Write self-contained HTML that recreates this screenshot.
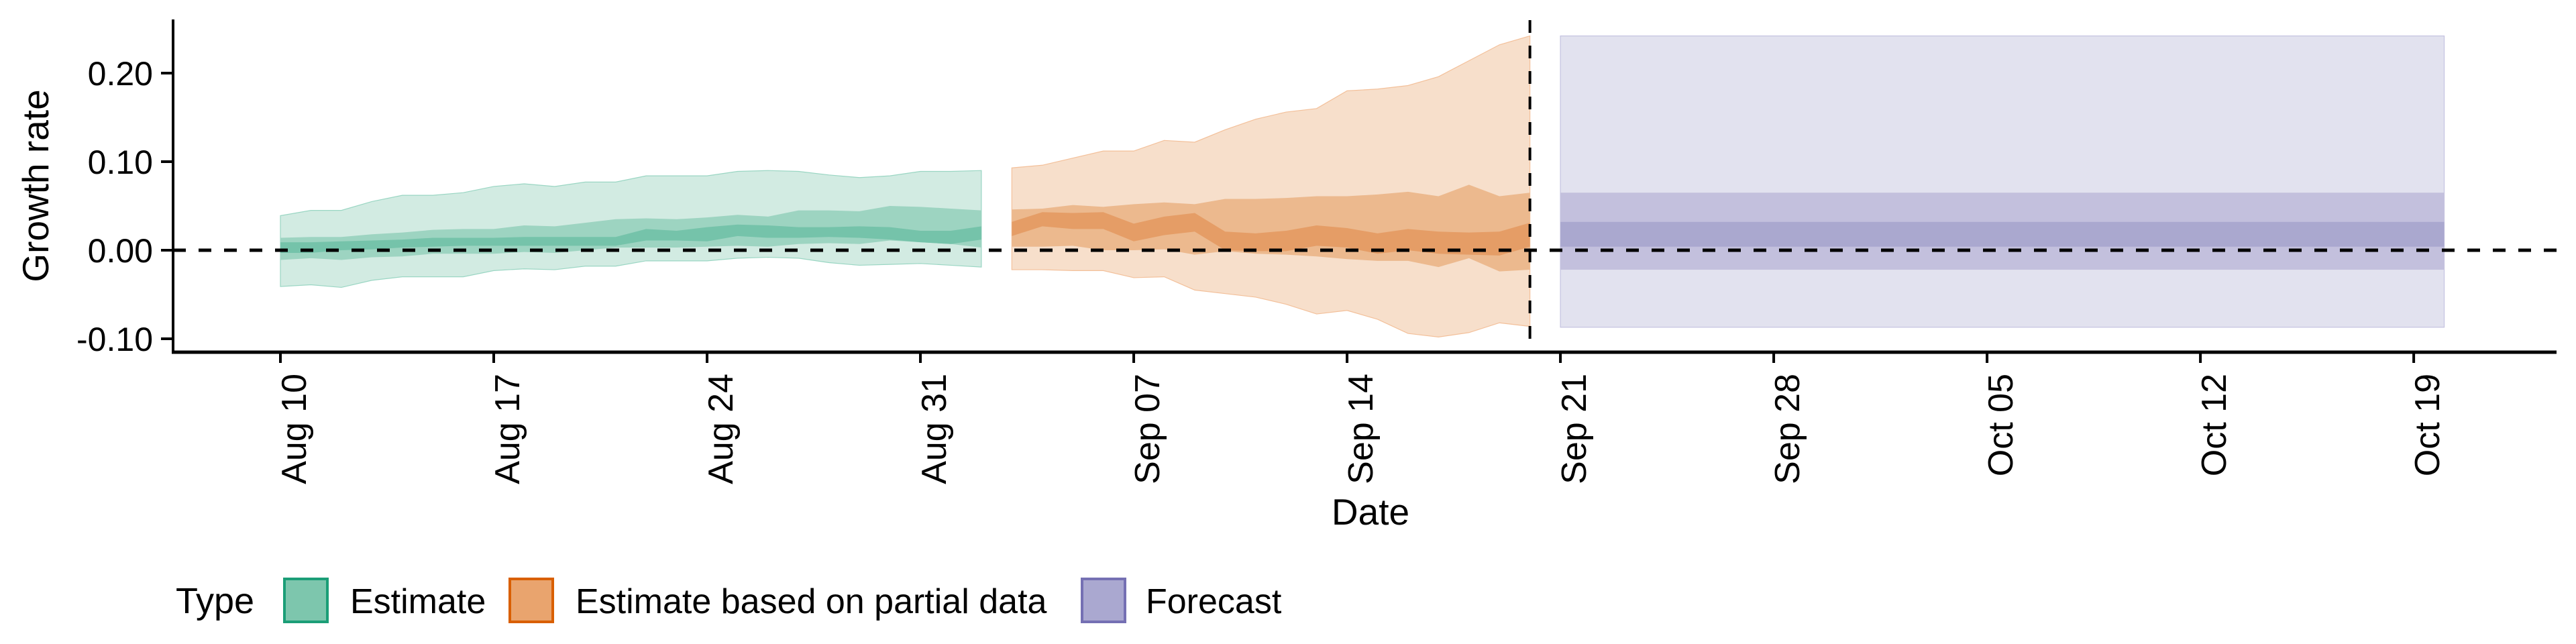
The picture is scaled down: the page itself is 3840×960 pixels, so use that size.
<!DOCTYPE html>
<html><head><meta charset="utf-8"><style>
html,body{margin:0;padding:0;background:#fff}
svg{display:block;font-family:"Liberation Sans",sans-serif}
</style></head><body>
<svg id="chart" width="3840" height="960" viewBox="0 0 3840 960" xmlns="http://www.w3.org/2000/svg">
<g id="bands"></g>
<g id="axes"></g>
<text x="0" y="0" transform="translate(72,277) rotate(-90)" text-anchor="middle" font-size="55" fill="#000">Growth rate</text>
<text x="2043" y="782" text-anchor="middle" font-size="55" fill="#000">Date</text>
<g>
<text x="262" y="914" font-size="54" fill="#000">Type</text>
<rect x="424" y="863" width="64" height="64" fill="#7dc6ad" stroke="#1b9e77" stroke-width="4"/>
<text x="522" y="914" font-size="52" fill="#000">Estimate</text>
<rect x="760" y="863" width="64" height="64" fill="#e9a46e" stroke="#d95f02" stroke-width="4"/>
<text x="858" y="914" font-size="52" fill="#000">Estimate based on partial data</text>
<rect x="1613" y="863" width="64" height="64" fill="#aaa8d0" stroke="#7570b3" stroke-width="4"/>
<text x="1708" y="914" font-size="52" fill="#000">Forecast</text>
</g>
</svg>
<script>
// day index 0 = Aug 10
const estStart = 0;
const estUpper90 = [.039,.045,.045,.055,.062,.062,.065,.072,.075,.072,.077,.077,.084,.084,.084,.089,.090,.089,.085,.082,.084,.089,.089,.090];
const estLower90 = [-.041,-.039,-.042,-.034,-.030,-.030,-.030,-.023,-.021,-.022,-.018,-.018,-.012,-.012,-.012,-.009,-.008,-.009,-.014,-.017,-.016,-.015,-.017,-.019];
const estUpper50 = [.014,.015,.015,.018,.020,.023,.024,.024,.028,.027,.031,.035,.036,.035,.037,.040,.038,.045,.045,.044,.050,.049,.047,.045];
const estLower50 = [-.011,-.009,-.011,-.008,-.007,-.004,-.004,-.004,-.002,-.003,0,.003,.003,.003,.004,.005,.004,.007,.008,.007,.011,.009,.007,.003];
const estUpper20 = [.009,.009,.010,.011,.012,.014,.014,.014,.015,.015,.015,.015,.024,.022,.026,.029,.028,.026,.026,.027,.026,.022,.022,.027];
const estLower20 = [-.003,-.003,0,.001,.003,.004,.005,.005,.005,.005,.005,.005,.011,.011,.010,.016,.014,.014,.015,.014,.012,.009,.007,.012];
const partStart = 24;
const partUpper90 = [.093,.096,.104,.112,.112,.124,.122,.136,.148,.156,.160,.180,.182,.186,.196,.214,.232,.242];
const partLower90 = [-.022,-.022,-.023,-.023,-.031,-.030,-.045,-.049,-.053,-.061,-.072,-.068,-.078,-.094,-.098,-.093,-.082,-.086];
const partUpper50 = [.046,.047,.051,.049,.052,.054,.052,.058,.058,.059,.061,.061,.063,.066,.061,.074,.061,.065];
const partLower50 = [.004,.004,.005,0,0,.001,-.005,-.001,-.004,-.005,-.007,-.010,-.012,-.012,-.019,-.009,-.024,-.022];
const partUpper20 = [.032,.043,.042,.043,.030,.038,.042,.021,.019,.022,.028,.025,.019,.024,.021,.020,.021,.031];
const partLower20 = [.016,.027,.024,.024,.010,.017,.021,0,-.001,-.001,.005,.003,-.004,0,-.004,-.005,-.006,.004];
const fcStart = 42, fcEnd = 71;
const fcBands = [[-.087,.242],[-.022,.065],[.004,.032]];
const yTicks = [0.20,0.10,0.00,-0.10];
const yTickLabels = ["0.20","0.10","0.00","-0.10"];
const xTickDays = [0,7,14,21,28,35,42,49,56,63,70];
const xTickLabels = ["Aug 10","Aug 17","Aug 24","Aug 31","Sep 07","Sep 14","Sep 21","Sep 28","Oct 05","Oct 12","Oct 19"];
const cutoffDay = 41;

const X0 = 418, DX = 45.43, Y0 = 373, DY = 1320;
const xs = d => X0 + d*DX;
const ys = v => Y0 - v*DY;
const NS = "http://www.w3.org/2000/svg";
const bands = document.getElementById('bands');
const axes = document.getElementById('axes');
function mk(tag, attrs, parent){ const e=document.createElementNS(NS,tag); for(const k in attrs) e.setAttribute(k,attrs[k]); parent.appendChild(e); return e; }
function ribbon(start, lo, hi, fill, stroke, name){
  let pts=[];
  for(let i=0;i<hi.length;i++) pts.push(xs(start+i)+','+ys(hi[i]));
  for(let i=lo.length-1;i>=0;i--) pts.push(xs(start+i)+','+ys(lo[i]));
  const p = mk('polygon',{points:pts.join(' '),fill:fill,stroke:stroke||'none','stroke-width':stroke?1.2:0},bands);
  
  
}
ribbon(estStart, estLower90, estUpper90, '#d2ebe2', '#9ad6c3', 'estimate-band-90');
ribbon(estStart, estLower50, estUpper50, '#9dd4c1', null, 'estimate-band-50');
ribbon(estStart, estLower20, estUpper20, '#75c3aa', null, 'estimate-band-20');
ribbon(partStart, partLower90, partUpper90, '#f7dfcb', '#f3c09a', 'partial-band-90');
ribbon(partStart, partLower50, partUpper50, '#ecb98e', null, 'partial-band-50');
ribbon(partStart, partLower20, partUpper20, '#e59d66', null, 'partial-band-20');
const fcFills = ['#e2e2ef','#c3c0dd','#aaa8cf'];
fcBands.forEach((b,i)=>{
  const r = mk('rect',{x:xs(fcStart),y:ys(b[1]),width:xs(fcEnd)-xs(fcStart),height:ys(b[0])-ys(b[1]),fill:fcFills[i],stroke:i==0?'#c4c2e0':'none','stroke-width':i==0?1.2:0},bands);
  
  
});
const zl = mk('line',{x1:258,x2:3811,y1:ys(0),y2:ys(0),stroke:'#000','stroke-width':5,'stroke-dasharray':'19 19'},bands);


const vl = mk('line',{x1:xs(cutoffDay),x2:xs(cutoffDay),y1:30,y2:525,stroke:'#000','stroke-width':4,'stroke-dasharray':'19 19'},bands);


const ya = mk('line',{x1:258,x2:258,y1:29,y2:527,stroke:'#000','stroke-width':4},axes);


const xa = mk('line',{x1:256,x2:3811,y1:525,y2:525,stroke:'#000','stroke-width':5},axes);


yTicks.forEach((v,i)=>{
  const t = mk('line',{x1:240,x2:258,y1:ys(v),y2:ys(v),stroke:'#000','stroke-width':4},axes);
  
  
  const l = mk('text',{x:228,y:ys(v)+18,'text-anchor':'end','font-size':50,fill:'#000'},axes);
  l.textContent = yTickLabels[i];
  
  
});
xTickDays.forEach((d,i)=>{
  const x = xs(d);
  const t = mk('line',{x1:x,x2:x,y1:525,y2:541,stroke:'#000','stroke-width':4},axes);
  
  
  const l = mk('text',{x:0,y:0,'text-anchor':'end','font-size':52,fill:'#000',transform:'translate('+(x+38)+',557) rotate(-90)'},axes);
  l.textContent = xTickLabels[i];
  
  
});
</script>
</body></html>
